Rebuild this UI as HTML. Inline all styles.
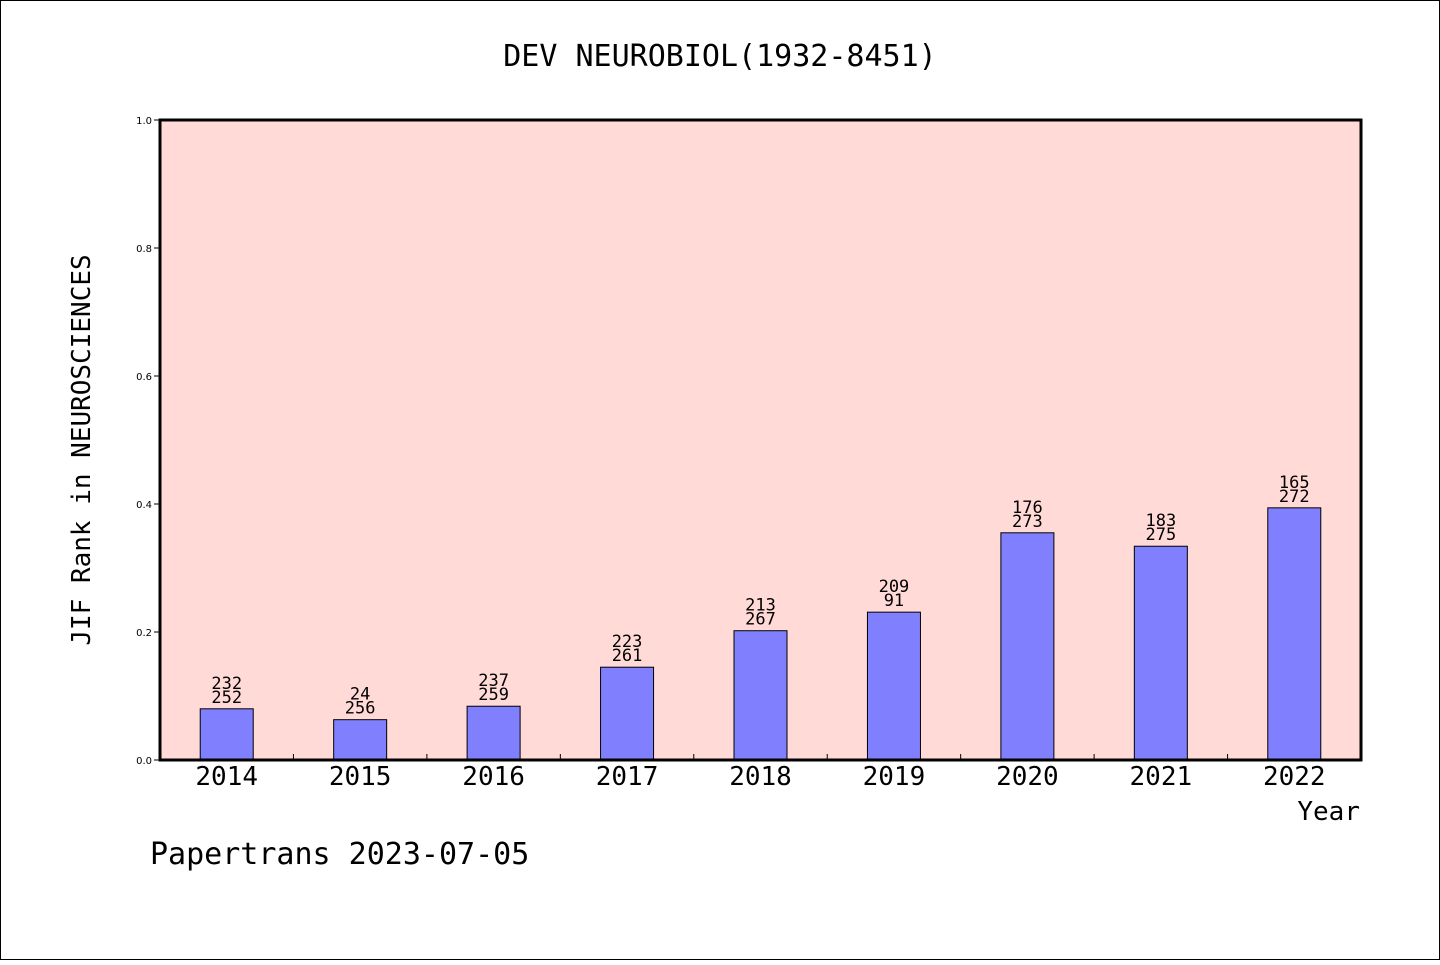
<!DOCTYPE html>
<html><head><meta charset="utf-8"><style>
html,body{margin:0;padding:0;background:#fff}
body{width:1440px;height:960px;overflow:hidden}
svg text{font-family:"WenQuanYi Zen Hei Mono","WenQuanYi Zen Hei","DejaVu Sans Mono",monospace;fill:#000}
svg text.tick{font-family:"DejaVu Sans","Liberation Sans",sans-serif}
</style></head><body>
<svg id="chart" width="1440" height="960" xmlns="http://www.w3.org/2000/svg">
<rect x="0.5" y="0.5" width="1439" height="959" fill="#fff" stroke="#000"/>
<text x="720" y="66" font-size="30" text-anchor="middle">DEV NEUROBIOL(1932-8451)</text>
<rect x="160" y="120" width="1201" height="640" fill="#ffdad7"/>
<g id="marks"></g>
<rect x="160" y="120" width="1201" height="640" fill="none" stroke="#000" stroke-width="3"/>
<text x="90" y="450" font-size="26" text-anchor="middle" transform="rotate(-90 90 450)">JIF Rank in NEUROSCIENCES</text>
<text x="1360" y="820" font-size="26" text-anchor="end">Year</text>
<text x="150" y="864" font-size="30">Papertrans 2023-07-05</text>
</svg>
<script>
const years=['2014','2015','2016','2017','2018','2019','2020','2021','2022'];
const values=[0.080,0.063,0.084,0.145,0.202,0.231,0.355,0.334,0.394];
const rankTop=['232','24','237','223','213','209','176','183','165'];
const rankBottom=['252','256','259','261','267','91','273','275','272'];
const yTicks=[0,0.2,0.4,0.6,0.8,1.0];
const yTickLabels=['0.0','0.2','0.4','0.6','0.8','1.0'];
const NS='http://www.w3.org/2000/svg';
const X0=160,W=1201,Y0=760,H=640;
const band=W/years.length;
const xc=i=>X0+band*(i+0.5);
const y=v=>Y0-v*H;
const g=document.getElementById('marks');
function mk(t,a){const e=document.createElementNS(NS,t);for(const k in a)e.setAttribute(k,a[k]);g.appendChild(e);return e;}
yTicks.forEach((t,i)=>{
 const l=mk('line',{x1:X0-6,x2:X0,y1:y(t),y2:y(t),stroke:'#000','stroke-width':1});
 
 
 const tx=mk('text',{x:X0-8,y:y(t)+4,'font-size':10,'text-anchor':'end','class':'tick'});
 tx.textContent=yTickLabels[i];
 
 
});
years.forEach((yr,i)=>{
 if(i>0){const tk=mk('line',{x1:X0+band*i,x2:X0+band*i,y1:Y0,y2:Y0-6,stroke:'#000','stroke-width':1});
 
 }
 const bw=53;
 const r=mk('rect',{x:xc(i)-bw/2,y:y(values[i]),width:bw,height:Y0-y(values[i]),fill:'#8080ff',stroke:'#000','stroke-width':1});
 
 
 const t1=mk('text',{x:xc(i),y:y(values[i])-20,'font-size':17,'text-anchor':'middle'});
 t1.textContent=rankTop[i];
 
 
 const t2=mk('text',{x:xc(i),y:y(values[i])-6,'font-size':17,'text-anchor':'middle'});
 t2.textContent=rankBottom[i];
 
 
 const xl=mk('text',{x:xc(i),y:785,'font-size':26,'text-anchor':'middle'});
 xl.textContent=yr;
 
 
});
</script>
</body></html>
